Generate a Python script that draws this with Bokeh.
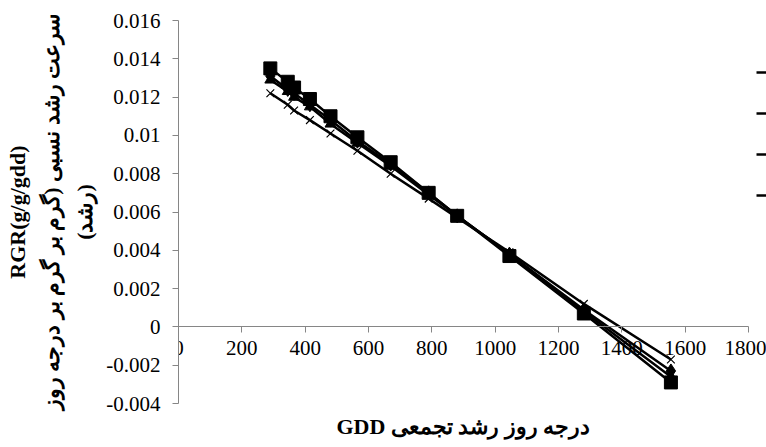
from bokeh.plotting import figure
from bokeh.models import (Range1d, FixedTicker, CustomJSTickFormatter, Legend, LegendItem, Title, LinearAxis)
from bokeh.embed import file_html
from bokeh.resources import INLINE

# ---- data ----
gdd = [290, 345, 365, 415, 480, 565, 670, 790, 880, 1045, 1280, 1555]
series_diamond = [0.0131, 0.0124, 0.0122, 0.0116, 0.0108, 0.0097, 0.0085, 0.0070, 0.0058, 0.0038, 0.0009, -0.0023]
series_square = [0.0135, 0.0128, 0.0125, 0.0119, 0.0110, 0.0099, 0.0086, 0.0070, 0.0058, 0.0037, 0.0007, -0.0029]
series_triangle = [0.0129, 0.0123, 0.0120, 0.0115, 0.0106, 0.0096, 0.0084, 0.0069, 0.0058, 0.0038, 0.0008, -0.0026]
series_x = [0.0122, 0.0116, 0.0113, 0.0108, 0.0101, 0.0092, 0.0080, 0.0067, 0.0057, 0.0039, 0.0012, -0.0017]
x_ticks = [0, 200, 400, 600, 800, 1000, 1200, 1400, 1600, 1800]
y_ticks = [-0.004, -0.002, 0.0, 0.002, 0.004, 0.006, 0.008, 0.01, 0.012, 0.014, 0.016]
x_title = "GDD  درجه روز رشد تجمعی"
y_title = "RGR(g/g/gdd)\nسرعت رشد نسبی (گرم بر گرم بر درجه روز\n(رشد)"

X_MAX = 1800
FRAME_LEFT, AXIS_RIGHT, CANVAS_W = 178, 748, 766
x_end = X_MAX * (CANVAS_W - FRAME_LEFT) / (AXIS_RIGHT - FRAME_LEFT)

AXIS_GRAY = "#868686"

p = figure(width=766, height=447, output_backend="svg", toolbar_location=None,
           x_range=Range1d(0, x_end), y_range=Range1d(-0.004, 0.016),
           min_border_left=FRAME_LEFT, min_border_right=0, min_border_top=20, min_border_bottom=44,
           x_axis_location=None, y_axis_location="left")
p.outline_line_color = None
p.xgrid.visible = False
p.ygrid.visible = False

# y axis
ya = p.yaxis[0]
ya.ticker = FixedTicker(ticks=y_ticks)
ya.formatter = CustomJSTickFormatter(code="return String(Math.round(tick*1000)/1000);")
ya.axis_line_color = AXIS_GRAY
ya.major_tick_line_color = AXIS_GRAY
ya.major_tick_out = 6
ya.major_tick_in = 0
ya.minor_tick_line_color = None
ya.major_label_text_font = "Liberation Serif"
ya.major_label_text_font_style = "normal"
ya.major_label_text_font_size = "21px"
ya.major_label_text_color = "black"
ya.major_label_standoff = 12
ya.axis_label = y_title
ya.axis_label_text_font = "Liberation Serif"
ya.axis_label_text_font_size = "22px"
ya.axis_label_text_font_style = "bold"
ya.axis_label_text_color = "black"
ya.axis_label_standoff = 6
ya.axis_label_text_line_height = 1.35

# x axis crossing at y = 0
xa = LinearAxis(fixed_location=0, bounds=(0, X_MAX))
xa.ticker = FixedTicker(ticks=x_ticks)
xa.axis_line_color = AXIS_GRAY
xa.major_tick_line_color = AXIS_GRAY
xa.major_tick_out = 6
xa.major_tick_in = 0
xa.minor_tick_line_color = None
xa.major_label_text_font = "Liberation Serif"
xa.major_label_text_font_style = "normal"
xa.major_label_text_font_size = "21px"
xa.major_label_text_color = "black"
xa.major_label_standoff = 8
p.add_layout(xa, "below")

p.add_layout(Title(text=x_title, align="left", offset=158,
                   text_font="Liberation Serif", text_font_size="22px",
                   text_font_style="bold", text_color="black", standoff=16), "below")

# series
lw = 2.5
r1 = p.line(gdd, series_diamond, line_color="black", line_width=lw)
p.scatter(gdd, series_diamond, marker="diamond", size=14, fill_color="black", line_color="black")
r2 = p.line(gdd, series_square, line_color="black", line_width=lw)
p.scatter(gdd, series_square, marker="square", size=13, fill_color="black", line_color="black")
r3 = p.line(gdd, series_triangle, line_color="black", line_width=lw)
p.scatter(gdd, series_triangle, marker="triangle", size=11, fill_color="black", line_color="black")
r4 = p.line(gdd, series_x, line_color="black", line_width=lw)
p.scatter(gdd, series_x, marker="x", size=11, line_color="black", line_width=1.2)

legend = Legend(items=[LegendItem(label="\u00a0", renderers=[r]) for r in (r1, r2, r3, r4)],
                location=(578, 198), padding=0, margin=0, spacing=21,
                glyph_width=14, glyph_height=20, label_height=20, label_width=6, label_standoff=0,
                label_text_font_size="10px", border_line_color=None, background_fill_alpha=0)
p.add_layout(legend, "center")

open("out.html", "w").write(file_html(p, INLINE))
